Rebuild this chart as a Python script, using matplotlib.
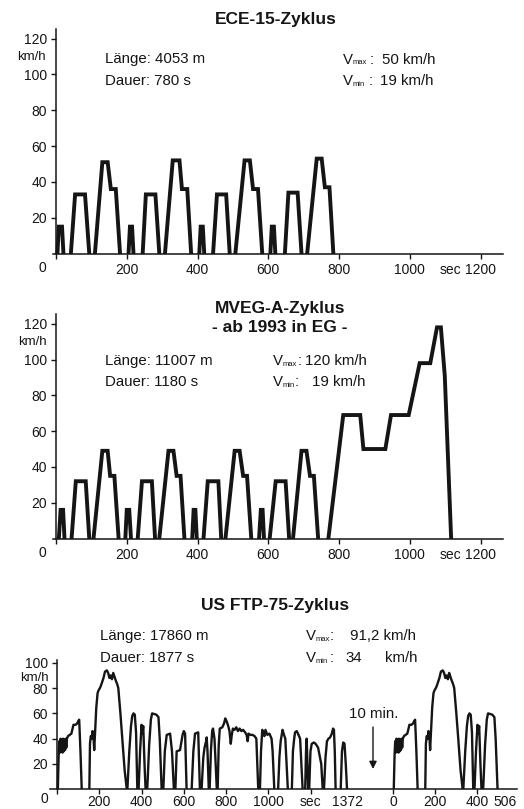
import numpy as np
import matplotlib
matplotlib.use("Agg")
import matplotlib.pyplot as plt

plt.rcParams['font.family'] = ['Liberation Sans', 'DejaVu Sans']

# ECE-15 (4 x city cycle)
ece_t = [0, 4, 8, 17, 21, 42, 54, 82, 94, 110, 131, 146, 155, 169, 181,
         205, 209, 215, 219, 245, 254, 281, 292, 308, 330, 349, 356, 371, 382,
         405, 409, 415, 419, 444, 455, 481, 491, 507, 533, 548, 557, 571, 583,
         606, 610, 616, 620, 647, 657, 683, 694, 710, 737, 751, 760, 773, 784]
ece_v = [0, 0, 15, 15, 0, 0, 33, 33, 0, 0, 51, 51, 36, 36, 0,
         0, 15, 15, 0, 0, 33, 33, 0, 0, 52, 52, 36, 36, 0,
         0, 15, 15, 0, 0, 33, 33, 0, 0, 52, 52, 36, 36, 0,
         0, 15, 15, 0, 0, 34, 34, 0, 0, 53, 53, 37, 37, 0]

# MVEG-A (ECE part + extra-urban part)
mveg_t = [0, 8, 13, 20, 24, 44, 56, 84, 94, 106, 131, 146, 153, 165, 177,
          196, 200, 207, 212, 231, 243, 271, 280, 292, 318, 332, 341, 352, 363,
          385, 389, 394, 398, 417, 429, 459, 467, 479, 505, 519, 529, 540, 552,
          574, 579, 584, 588, 604, 621, 649, 659, 670, 694, 708, 718, 729, 741,
          770, 812, 860, 869, 931, 947, 997, 1028, 1058, 1077, 1088, 1099, 1117]
mveg_v = [0, 0, 16, 16, 0, 0, 32, 32, 0, 0, 49, 49, 35, 35, 0,
          0, 16, 16, 0, 0, 32, 32, 0, 0, 49, 49, 35, 35, 0,
          0, 16, 16, 0, 0, 32, 32, 0, 0, 49, 49, 35, 35, 0,
          0, 16, 16, 0, 0, 32, 32, 0, 0, 49, 49, 35, 35, 0,
          0, 69, 69, 50, 50, 69, 69, 98, 98, 118, 118, 91, 0]

# US FTP-75, cold start + stabilized phase (0..1372 s)
ftp_t = [0, 4, 8, 11, 14, 17, 20, 23, 26, 29, 32, 35, 38, 41, 44, 47, 52, 60, 68, 74, 78, 88, 95, 101, 105, 111, 117,
         153, 156, 160, 164, 168, 172, 176, 180, 186, 192, 196, 203, 208, 214, 220, 227, 236, 242, 248, 254,
         260, 266, 272, 278, 285, 290, 300, 310, 320, 330,
         333, 342, 350, 356, 362, 368, 374, 380,
         386, 393, 400, 404, 408, 414, 419,
         427, 436, 444, 450, 470, 480, 486, 495,
         503, 510, 519, 535, 544, 553,
         560, 566, 582, 594, 600, 606, 613,
         637, 645, 653, 668, 676,
         684, 692, 698, 704, 708, 712, 718,
         722, 728, 734, 738, 745, 756,
         760, 765, 770, 782, 790, 796, 802, 810, 816, 822, 826, 832, 840, 848, 856, 864, 872, 880, 890, 897,
         902, 906, 915, 925, 935, 943, 952,
         960, 965, 971, 976, 981, 986, 995, 1005, 1015, 1020, 1028,
         1046, 1052, 1058, 1064, 1067, 1072, 1080, 1086, 1092,
         1111, 1116, 1122, 1126, 1134, 1140, 1150, 1156, 1162,
         1174, 1178, 1181, 1184, 1188,
         1193, 1199, 1205, 1215, 1223, 1235, 1250, 1257,
         1263, 1270, 1277, 1284, 1292, 1300, 1306, 1310, 1314, 1318,
         1342, 1348, 1354, 1360, 1366, 1372]
ftp_v = [0, 0, 28, 38, 29, 40, 30, 39, 29, 40, 30, 39, 31, 40, 33, 40, 42, 43, 44, 48, 51, 51, 52, 54, 55, 30, 0,
         0, 36, 42, 40, 46, 44, 31, 45, 65, 76, 78, 80, 82, 85, 88, 93, 94, 92, 88, 90,
         87, 92, 89, 86, 83, 80, 60, 38, 15, 0,
         0, 30, 50, 58, 60, 59, 45, 0,
         0, 30, 51, 44, 50, 20, 0,
         0, 35, 55, 60, 59, 57, 40, 0,
         0, 30, 43, 44, 30, 0,
         0, 30, 31, 43, 46, 44, 0,
         0, 30, 44, 45, 0,
         0, 25, 33, 37, 41, 30, 0,
         0, 30, 46, 48, 40, 0,
         0, 35, 48, 49, 52, 56, 54, 50, 46, 36, 42, 48, 47, 49, 46, 48, 46, 47, 45, 43,
         38, 44, 43, 43, 42, 40, 0,
         0, 30, 47, 44, 42, 47, 43, 44, 40, 30, 0,
         0, 25, 38, 44, 47, 44, 40, 20, 0,
         0, 30, 40, 45, 46, 44, 40, 20, 0,
         0, 30, 40, 25, 0,
         0, 30, 36, 37, 36, 33, 20, 0,
         0, 25, 38, 40, 41, 44, 48, 47, 30, 0,
         0, 30, 37, 36, 20, 0]

HOT_OFFSET = 1589   # hot start drawn after the 10 min. break

W, H = 524, 809
INK = '#151515'
fig = plt.figure(figsize=(W / 100, H / 100), dpi=100)


def px_axes(x0, x1, ytop, ybot):
    return fig.add_axes([x0 / W, 1 - ybot / H, (x1 - x0) / W, (ybot - ytop) / H])


def ptext(x, y, s, **kw):
    kw.setdefault('color', INK)
    fig.text(x / W, 1 - y / H, s, **kw)


def split_idle(t, v):
    # leave out the standstill pieces, they lie on the axis anyway
    t = np.asarray(t, float)
    v = np.asarray(v, float)
    idle = np.where((v[:-1] == 0) & (v[1:] == 0))[0] + 1
    return np.insert(t, idle, np.nan), np.insert(v, idle, np.nan)


def style(ax, xlim, ylim, yticks, lab_pad):
    ax.set_xlim(*xlim)
    ax.set_ylim(*ylim)
    for s in ['top', 'right']:
        ax.spines[s].set_visible(False)
    ax.spines['left'].set_position(('data', 0))
    for s in ['left', 'bottom']:
        ax.spines[s].set_linewidth(1.1)
        ax.spines[s].set_color(INK)
    ax.set_yticks(yticks)
    ax.tick_params(axis='both', which='major', length=3.5, width=1.0, color=INK,
                   labelsize=10, labelcolor=INK)
    ax.tick_params(axis='x', which='major', pad=lab_pad)
    ax.tick_params(axis='y', which='major', pad=3)
    ax.tick_params(axis='x', which='minor', length=0, pad=lab_pad + 3.5,
                   labelsize=10, labelcolor=INK)
    ax.patch.set_alpha(0)


def vlabel(x, y, sub, colon_x, parts):
    ptext(x, y, 'V', fontsize=10.8, va='baseline')
    ptext(x + 10, y + 1, sub, fontsize=5.5, va='baseline')
    ptext(colon_x, y, ':', fontsize=10.8, va='baseline')
    for px, s in parts:
        ptext(px, y, s, fontsize=10.8, va='baseline')


# ---------------- ECE-15 ----------------
ax1 = px_axes(53, 503, 29, 253.5)
t, v = split_idle(ece_t, ece_v)
ax1.plot(t, v, color=INK, lw=2.8, solid_joinstyle='miter')
style(ax1, (-8.5, 1263.6), (0, 125.4), [20, 40, 60, 80, 100, 120], 3)
ax1.set_xticks([0, 200, 400, 600, 800, 1000, 1200],
               ['', '200', '400', '600', '800', '1000', '1200'])
ax1.set_xticks([1114], ['sec'], minor=True)
ptext(42, 272, '0', fontsize=10, ha='center', va='baseline')
ptext(31.5, 60, 'km/h', fontsize=9.5, ha='center', va='baseline')
ptext(275.7, 24, 'ECE-15-Zyklus', fontsize=12.5, fontweight='bold', ha='center', va='baseline')
ptext(105, 63.5, 'Länge: 4053 m', fontsize=10.8, va='baseline')
ptext(105, 85, 'Dauer: 780 s', fontsize=10.8, va='baseline')
vlabel(343, 63.5, 'max', 370, [(381.5, '50 km/h')])
vlabel(343, 85, 'min', 368.5, [(380, '19 km/h')])

# ---------------- MVEG-A ----------------
ax2 = px_axes(53, 503, 314.3, 538.5)
t, v = split_idle(mveg_t, mveg_v)
ax2.plot(t, v, color=INK, lw=2.8, solid_joinstyle='miter')
style(ax2, (-8.5, 1263.6), (0, 125.3), [20, 40, 60, 80, 100, 120], 3)
ax2.set_xticks([0, 200, 400, 600, 800, 1000, 1200],
               ['', '200', '400', '600', '800', '1000', '1200'])
ax2.set_xticks([1114], ['sec'], minor=True)
ptext(42, 557, '0', fontsize=10, ha='center', va='baseline')
ptext(32.5, 345, 'km/h', fontsize=9.5, ha='center', va='baseline')
ptext(280, 313.3, 'MVEG-A-Zyklus', fontsize=12.5, fontweight='bold', ha='center', va='baseline')
ptext(280, 331.7, '- ab 1993 in EG -', fontsize=12.5, fontweight='bold', ha='center', va='baseline')
ptext(105, 365, 'Länge: 11007 m', fontsize=10.8, va='baseline')
ptext(105, 386, 'Dauer: 1180 s', fontsize=10.8, va='baseline')
vlabel(273, 365, 'max', 297.5, [(305, '120 km/h')])
vlabel(273, 386, 'min', 295, [(311.5, '19 km/h')])

# ---------------- US FTP-75 ----------------
ax3 = px_axes(50, 517, 660, 789.3)
t, v = split_idle(ftp_t, ftp_v)
ax3.plot(t, v, color=INK, lw=1.7)
hot = np.asarray(ftp_t) <= 506
t, v = split_idle(np.asarray(ftp_t)[hot] + HOT_OFFSET, np.asarray(ftp_v)[hot])
ax3.plot(t, v, color=INK, lw=1.7)
style(ax3, (-33.1, 2176), (0, 102.2), [20, 40, 60, 80, 100], 0.8)
ax3.set_xticks([0, 200, 400, 600, 800, 1000, 1200,
                HOT_OFFSET, HOT_OFFSET + 200, HOT_OFFSET + 400],
               ['', '200', '400', '600', '800', '1000', 'sec', '0', '200', '400'])
ax3.set_xticks([1372, HOT_OFFSET + 530], ['1372', '506'], minor=True)
ptext(44, 803, '0', fontsize=10, ha='center', va='baseline')
ptext(34, 681, 'km/h', fontsize=9.5, ha='center', va='baseline')
ptext(275, 610, 'US FTP-75-Zyklus', fontsize=12.5, fontweight='bold', ha='center', va='baseline')
ptext(100, 640, 'Länge: 17860 m', fontsize=10.8, va='baseline')
ptext(100, 661.7, 'Dauer: 1877 s', fontsize=10.8, va='baseline')
vlabel(306, 640, 'max', 330, [(350, '91,2 km/h')])
vlabel(306, 661.7, 'min', 330, [(345, '34'), (385, 'km/h')])

# break between the two runs
ptext(374, 718, '10 min.', fontsize=10.8, ha='center', va='baseline')
ax3.annotate('', xy=(373, H - 769), xytext=(373, H - 727),
             xycoords='figure pixels', textcoords='figure pixels',
             arrowprops=dict(arrowstyle='-|>', color=INK, lw=1.0,
                             mutation_scale=11, shrinkA=0, shrinkB=0))

fig.savefig('out.png', dpi=100)
